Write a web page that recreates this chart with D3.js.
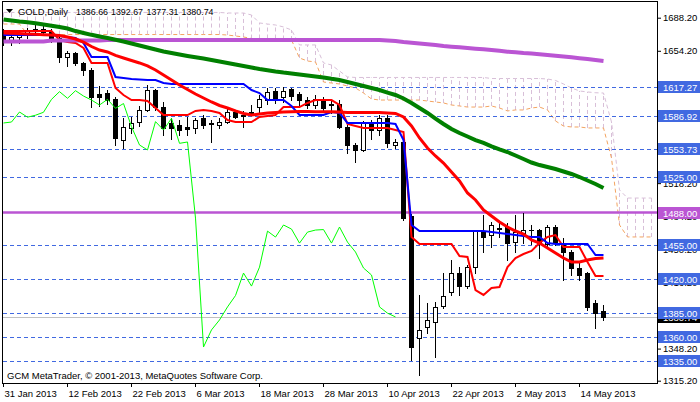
<!DOCTYPE html>
<html><head><meta charset="utf-8">
<script src="https://cdnjs.cloudflare.com/ajax/libs/d3/7.8.5/d3.min.js"></script>
<style>
html,body{margin:0;padding:0;background:#fff;}
svg{display:block;}
text{font-family:"Liberation Sans",Arial,sans-serif;font-size:9.5px;}
</style></head><body>
<svg id="chart" width="700" height="402"></svg>
<script>
// ---------------- DATA ----------------
const dates = ["2013-01-31","2013-02-01","2013-02-04","2013-02-05","2013-02-06","2013-02-07","2013-02-08","2013-02-11","2013-02-12","2013-02-13",
"2013-02-14","2013-02-15","2013-02-18","2013-02-19","2013-02-20","2013-02-21","2013-02-22","2013-02-25","2013-02-26","2013-02-27",
"2013-02-28","2013-03-01","2013-03-04","2013-03-05","2013-03-06","2013-03-07","2013-03-08","2013-03-11","2013-03-12","2013-03-13",
"2013-03-14","2013-03-15","2013-03-18","2013-03-19","2013-03-20","2013-03-21","2013-03-22","2013-03-25","2013-03-26","2013-03-27",
"2013-03-28","2013-04-01","2013-04-02","2013-04-03","2013-04-04","2013-04-05","2013-04-08","2013-04-09","2013-04-10","2013-04-11",
"2013-04-12","2013-04-15","2013-04-16","2013-04-17","2013-04-18","2013-04-19","2013-04-22","2013-04-23","2013-04-24","2013-04-25",
"2013-04-26","2013-04-29","2013-04-30","2013-05-01","2013-05-02","2013-05-03","2013-05-06","2013-05-07","2013-05-08","2013-05-09",
"2013-05-10","2013-05-13","2013-05-14","2013-05-15","2013-05-16","2013-05-17"];

const opens = [1670,1664,1668,1671,1675,1677,1674,1667,1648,1651.6,
1641.4,1634.5,1609.3,1610.5,1604.6,1562.5,1574.6,1580.7,1593.4,1613.9,
1596.8,1579.7,1577.9,1575.6,1574.6,1585,1579,1578,1581,1591,
1587,1590,1596.8,1603.6,1613.2,1606.4,1614.6,1609.5,1603.6,1598.5,
1604.3,1598,1600,1576.2,1557.4,1552.3,1581.4,1572.8,1584.8,1557.4,
1560.5,1484,1359.1,1370.4,1375.5,1392.4,1406.6,1425.8,1412.4,1431.9,
1467.9,1465,1472,1473.1,1457.6,1467,1470,1470.1,1455.6,1473.1,
1456.6,1447.4,1431,1425.8,1395,1386.66];
const highs = [1677,1672,1675,1678,1681,1682,1677,1669,1654,1653,
1643,1636.5,1618,1614,1606.7,1584.8,1586.5,1597,1619,1615,
1602,1584.8,1583,1586.4,1584.8,1588,1583,1585,1596.4,1593,
1592,1598,1609,1615.7,1615.7,1617.3,1616,1612,1607,1609,
1607,1603.6,1603.6,1578,1559,1582,1583,1588,1588.2,1564,
1564.6,1487,1403.3,1395,1396,1425.6,1439.3,1432,1434,1470,
1485.5,1478,1478,1477,1485.5,1487.6,1475,1471,1475,1475,
1461.8,1449.5,1436,1426.8,1398.2,1392.67];
const lows = [1660,1660,1662,1667,1672,1671,1663,1643,1639,1640,
1629,1596.7,1597,1600,1557.4,1554,1569.4,1577,1592,1593,
1567.7,1564,1567.7,1567.7,1569.4,1574.6,1560,1575,1580,1585,
1576,1588,1591,1600,1601,1601.9,1604,1598.5,1595,1595,
1591.6,1590,1574.5,1548.9,1540,1551,1564,1567.7,1555.7,1554,
1480.3,1336.6,1321.1,1364,1340,1390,1403.3,1403,1410,1426,
1447.5,1453,1463,1439.3,1447.5,1457,1456,1441,1453,1454.5,
1418.7,1424,1418.7,1387.9,1369.3,1377.31];
const closes = [1663,1668,1671,1675,1677,1674,1666,1648,1652,1641.4,
1634.5,1607,1606.7,1603.6,1564.6,1576.3,1579.7,1593.4,1613.9,1596.8,
1574.5,1574.6,1572.8,1573.5,1583.1,1578,1580,1581,1591.3,1586,
1588,1591,1604.3,1612.2,1605.4,1613.2,1607.7,1603.6,1598.5,1604.3,
1595.1,1600,1576.2,1557.4,1552.3,1581.4,1572.8,1584.8,1559.1,1560.5,
1482.3,1349.8,1367.4,1377.6,1391,1402.7,1425.8,1412.4,1431.9,1468.9,
1462.8,1475.2,1471,1456.6,1467.9,1470,1470.5,1456.6,1473.1,1457.6,
1447.4,1431,1423.8,1391,1384.6,1380.74];

// moving averages
const maRed = [1672.5,1672.2,1671.9,1671.5,1671.1,1670.8,1670.4,1669.9,1668.4,1666.3,
1663.2,1658.6,1655.0,1653.0,1649.4,1646.8,1644.2,1641.7,1638.6,1634.5,
1629.3,1624.2,1619.1,1614.4,1609.8,1605.7,1601.6,1598.0,1595.4,1592.4,
1589.8,1588.2,1589.3,1590.3,1590.8,1591.3,1591.6,1591.8,1591.8,1591.6,
1591.6,1591.6,1591.3,1590.8,1590.8,1590.8,1590.8,1590.8,1590.3,1589.8,
1586.2,1576.9,1564.6,1554.3,1546.1,1538.9,1529.6,1520.4,1508.1,1500.9,
1490.6,1484.4,1478.3,1473.1,1469.0,1465.9,1459.8,1456.7,1451.6,1446.4,
1441.3,1437.2,1437.2,1439.2,1440.8,1441.3];
const maGreen = [1686.4,1685.3,1684.3,1683.5,1682.5,1681.2,1679.9,1678.7,1677.1,1674.5,
1672.5,1670.6,1668.9,1667.3,1665.5,1663.8,1661.7,1659.6,1657.6,1655.5,
1653.5,1651.9,1650.4,1648.9,1647.5,1646.2,1644.7,1643.2,1641.7,1640.1,
1638.6,1637.0,1635.5,1634.2,1632.9,1631.8,1630.9,1629.8,1628.8,1627.8,
1626.8,1625.4,1624.2,1622.1,1620.1,1618.0,1616.0,1613.9,1611.3,1608.8,
1605.2,1600.6,1595.4,1590.3,1584.6,1579.0,1573.8,1569.7,1566.1,1562.5,
1559.5,1555.9,1552.8,1550.2,1546.6,1543.0,1539.4,1536.8,1534.8,1532.7,
1530.2,1527.6,1524.5,1520.9,1517.3,1513.2];
const maPurple = [1663.8,1663.8,1663.8,1663.8,1663.8,1663.8,1664.8,1664.8,1664.8,1664.8,
1664.8,1664.8,1664.8,1665.3,1665.3,1665.3,1665.3,1665.3,1665.3,1665.3,
1665.3,1665.3,1665.3,1665.3,1665.3,1665.3,1665.3,1665.3,1665.3,1665.3,
1665.3,1665.3,1665.3,1665.3,1665.3,1665.3,1665.3,1665.3,1665.3,1665.3,
1665.3,1665.3,1665.3,1665.3,1665.3,1665.3,1665.3,1665.3,1664.8,1664.3,
1663.2,1662.5,1661.7,1660.9,1660.2,1659.1,1658.4,1657.8,1657.1,1656.4,
1655.7,1655.0,1654.2,1653.3,1652.7,1651.9,1651.3,1650.6,1649.9,1649.2,
1648.3,1647.5,1646.6,1645.7,1644.7,1643.7];

// Ichimoku
const tenkan = [1674.5,1674.5,1674.5,1674.5,1674.5,1674.5,1674.5,1665.3,1663.2,1662.2,
1657.1,1641.7,1641.7,1641.7,1616.0,1608.8,1603.6,1603.6,1602.6,1595.4,
1588.2,1588.2,1588.2,1588.2,1592.4,1593.4,1592.4,1590.3,1583.1,1581.0,
1581.0,1581.0,1586.2,1587.2,1588.2,1596.4,1596.4,1596.4,1600.6,1603.6,
1603.6,1603.6,1598.5,1579.0,1576.9,1574.9,1574.9,1574.9,1574.9,1572.8,
1570.8,1462.9,1455.7,1455.7,1455.7,1455.7,1455.7,1443.3,1442.3,1408.4,
1403.3,1410.5,1411.5,1432.0,1441.3,1445.4,1448.5,1456.7,1462.9,1464.9,
1452.6,1452.6,1452.6,1437.2,1422.8,1422.8];
const kijun = [1670.4,1670.4,1670.4,1670.4,1670.4,1670.4,1670.4,1669.4,1668.4,1667.3,
1662.2,1647.8,1647.8,1647.8,1627.3,1626.2,1625.2,1624.7,1624.2,1624.2,
1621.1,1620.1,1620.1,1620.1,1620.1,1620.1,1620.1,1620.1,1620.1,1620.1,
1620.1,1613.9,1610.8,1603.6,1603.6,1603.6,1597.5,1588.2,1588.2,1588.2,
1588.2,1591.3,1590.3,1580.0,1580.0,1580.0,1580.0,1580.0,1580.0,1579.0,
1562.5,1475.2,1469.0,1469.0,1469.0,1469.0,1469.0,1469.0,1469.0,1469.0,
1469.0,1468.0,1467.0,1465.9,1464.9,1463.9,1462.9,1462.9,1456.7,1455.7,
1455.7,1455.7,1455.7,1455.7,1444.4,1444.4];
const chikou = [1580,1581,1591.3,1586,1588,1591,1604.3,1612.2,1605.4,1613.2,
1607.7,1603.6,1598.5,1604.3,1595.1,1600,1576.2,1557.4,1552.3,1581.4,
1572.8,1584.8,1559.1,1560.5,1482.3,1349.8,1367.4,1377.6,1391,1402.7,
1425.8,1412.4,1431.9,1468.9,1462.8,1475.2,1471,1456.6,1467.9,1470,
1470.5,1456.6,1473.1,1457.6,1447.4,1431,1423.8,1391,1384.6,1380.74];
const spanA = [1681.7,1681.7,1681.7,1670.9,1670.9,1670.9,1670.9,1670.9,1670.9,1670.9,
1670.9,1670.9,1670.9,1670.9,1670.9,1670.9,1670.9,1670.9,1670.9,1670.9,
1670.9,1670.9,1670.9,1670.9,1670.9,1670.9,1670.9,1670.9,1670.4,1669.4,
1668.4,1666.8,1666.8,1666.8,1666.8,1665.8,1665.3,1646.8,1643.7,1642.7,
1622.1,1621.1,1620.1,1618.0,1616.0,1610.8,1604.7,1603.6,1603.6,1603.6,
1603.6,1603.6,1603.6,1602.6,1601.6,1600.6,1598.5,1597.5,1596.4,1596.4,
1596.4,1597.5,1595.4,1592.4,1593.4,1593.4,1595.4,1596.4,1593.4,1582.1,
1576.9,1575.9,1575.9,1574.9,1574.9,1574.9,1544.0,1475.2,1462.9,1462.9,
1462.9,1462.9];
const spanB = [1693.6,1693.6,1693.6,1693.6,1693.6,1693.6,1693.6,1693.6,1693.6,1693.6,
1693.6,1693.6,1693.6,1693.6,1693.6,1693.6,1693.6,1693.6,1693.6,1693.6,
1693.6,1693.6,1693.6,1693.6,1693.6,1693.6,1693.6,1693.6,1693.0,1693.0,
1693.0,1691.0,1682.8,1681.7,1680.7,1678.7,1675.6,1660.2,1660.2,1660.2,
1641.7,1639.6,1633.4,1627.3,1626.8,1626.8,1626.8,1626.8,1626.8,1626.8,
1626.8,1626.8,1626.8,1626.8,1626.8,1626.8,1626.8,1626.8,1626.8,1626.8,
1626.8,1625.7,1625.7,1625.7,1625.7,1625.7,1625.7,1625.7,1625.2,1623.7,
1620.1,1616.0,1612.9,1611.9,1611.1,1610.8,1581.0,1511.2,1502.9,1502.9,
1502.9,1502.9];

// horizontal objects and axis
const levels = [1617.27,1586.92,1553.73,1525.00,1455.00,1420.00,1385.00,1360.00,1335.00];
const resistance = 1488.00;
const bidPrice = 1380.74;
const priceTicks = [1688.2,1654.2,1620.2,1586.2,1552.2,1518.2,1484.2,1450.2,1416.2,1382.2,1348.2,1315.2];
const timeTickIdx = [0,8,16,24,32,40,48,56,64,72];
const titleSymbol = "GOLD,Daily";
const titleOHLC = [1386.66,1392.67,1377.31,1380.74];
const footer = "GCM MetaTrader, \u00A9 2001-2013, MetaQuotes Software Corp.";

// ---------------- DRAW ----------------
const svg = d3.select("#chart");
svg.append("rect").attr("width",700).attr("height",402).attr("fill","#fff");
const x = d3.scaleLinear().domain([0,81.75]).range([3,657]);
const y = d3.scaleLinear().domain([1315.2,1688.2]).range([380.7,17.7]);
const px = i => Math.round(x(i));
const f2 = d3.format(".2f");

svg.append("defs").append("clipPath").attr("id","plot")
  .append("rect").attr("x",3).attr("y",2).attr("width",654).attr("height",381);
const g = svg.append("g").attr("clip-path","url(#plot)");

const line = d3.line().x((d,i)=>px(i)+0.5).y(d=>y(d));

// cloud hatch
g.append("g").selectAll("line").data(d3.range(spanA.length)).join("line")
  .attr("x1",i=>px(i)+0.5).attr("x2",i=>px(i)+0.5)
  .attr("y1",i=>y(spanA[i])).attr("y2",i=>y(spanB[i]))
  .attr("stroke","#D8BFD8").attr("stroke-width",1).attr("stroke-dasharray","4,3");
g.append("path").attr("d",line(spanA)).attr("fill","none").attr("stroke","#F4A460").attr("stroke-dasharray","4,3");
g.append("path").attr("d",line(spanB)).attr("fill","none").attr("stroke","#D8BFD8").attr("stroke-dasharray","4,3");

// level lines
g.append("g").selectAll("line").data(levels).join("line")
  .attr("x1",3).attr("x2",657)
  .attr("y1",d=>Math.round(y(d))+0.5).attr("y2",d=>Math.round(y(d))+0.5)
  .attr("stroke","#4169E1").attr("stroke-dasharray","4,3");
g.append("line").attr("x1",3).attr("x2",657)
  .attr("y1",Math.round(y(bidPrice))+0.5).attr("y2",Math.round(y(bidPrice))+0.5)
  .attr("stroke","#C0C0C0");
g.append("line").attr("x1",3).attr("x2",657)
  .attr("y1",y(resistance)).attr("y2",y(resistance))
  .attr("stroke","#BA55D3").attr("stroke-width",2.5);

// candles
const cg = g.append("g").attr("shape-rendering","crispEdges");
const idx = d3.range(closes.length);
cg.selectAll("line.w").data(idx).join("line").attr("class","w")
  .attr("x1",i=>px(i)+0.5).attr("x2",i=>px(i)+0.5)
  .attr("y1",i=>Math.round(y(highs[i]))).attr("y2",i=>Math.round(y(lows[i]))+1)
  .attr("stroke","#000");
idx.forEach(i=>{
  const o=opens[i], c=closes[i];
  const top=Math.round(y(Math.max(o,c))), bot=Math.round(y(Math.min(o,c)));
  const cx=px(i);
  if (bot-top < 1) {
    cg.append("line").attr("x1",cx-2).attr("x2",cx+3).attr("y1",top+0.5).attr("y2",top+0.5).attr("stroke","#000");
  } else if (c>=o) {
    cg.append("rect").attr("x",cx-1.5).attr("y",top+0.5).attr("width",4).attr("height",bot-top)
      .attr("fill","#fff").attr("stroke","#000");
  } else {
    cg.append("rect").attr("x",cx-2).attr("y",top).attr("width",5).attr("height",bot-top+1).attr("fill","#000");
  }
});

// ichimoku lines
g.append("path").attr("d",line(tenkan)).attr("fill","none").attr("stroke","#FF0000").attr("stroke-width",2);
g.append("path").attr("d",line(kijun)).attr("fill","none").attr("stroke","#0000FF").attr("stroke-width",2);
g.append("path").attr("d",line(chikou)).attr("fill","none").attr("stroke","#00FF00").attr("stroke-width",1);
// moving averages
g.append("path").attr("d",line(maPurple)).attr("fill","none").attr("stroke","#BA55D3").attr("stroke-width",4);
g.append("path").attr("d",line(maGreen)).attr("fill","none").attr("stroke","#008000").attr("stroke-width",4);
g.append("path").attr("d",line(maRed)).attr("fill","none").attr("stroke","#FF0000").attr("stroke-width",3);

// frame
svg.append("rect").attr("x",2.5).attr("y",1.5).attr("width",655).attr("height",382)
  .attr("fill","none").attr("stroke","#000").attr("shape-rendering","crispEdges");

// price axis
const ya = svg.append("g").attr("transform","translate(657,0)")
  .call(d3.axisRight(y).tickValues(priceTicks).tickFormat(f2).tickSize(4).tickPadding(2).tickSizeOuter(0));
ya.select(".domain").remove();
ya.attr("font-family","Liberation Sans, Arial, sans-serif").attr("font-size",9.5).attr("color","#000");

// time axis
const fmt = d3.timeFormat("%-d %b %Y"), parse = d3.timeParse("%Y-%m-%d");
const xa = svg.append("g").attr("transform","translate(0,383)")
  .call(d3.axisBottom(x).tickValues(timeTickIdx).tickFormat(i=>fmt(parse(dates[i]))).tickSize(4).tickPadding(3).tickSizeOuter(0));
xa.select(".domain").remove();
xa.attr("font-family","Liberation Sans, Arial, sans-serif").attr("font-size",9.5).attr("color","#000");
xa.selectAll("text").attr("text-anchor","start").attr("x",1);

// level labels
const lab = svg.append("g");
function tag(v, fill){
  const yy=Math.round(y(v));
  lab.append("rect").attr("x",658).attr("y",yy-6).attr("width",42).attr("height",12).attr("fill",fill);
  lab.append("text").attr("x",663).attr("y",yy+3.5).attr("fill","#fff").text(f2(v));
}
tag(bidPrice,"#000");
levels.forEach(v=>tag(v,"#4169E1"));
tag(resistance,"#BA55D3");

// title
svg.append("path").attr("d","M6,9L13,9L9.5,13Z").attr("fill","#000");
svg.append("text").attr("x",18).attr("y",15).attr("fill","#000")
  .attr("textLength",50).attr("lengthAdjust","spacingAndGlyphs").text(titleSymbol);
const tx=[76,111,146.5,181.5];
titleOHLC.forEach((v,i)=>svg.append("text").attr("x",tx[i]).attr("y",15).attr("fill","#000")
  .attr("textLength",32).attr("lengthAdjust","spacingAndGlyphs").text(f2(v)));

// footer
svg.append("text").attr("x",7).attr("y",379).attr("fill","#000").attr("textLength",256).attr("lengthAdjust","spacingAndGlyphs").text(footer);
</script>
</body></html>
